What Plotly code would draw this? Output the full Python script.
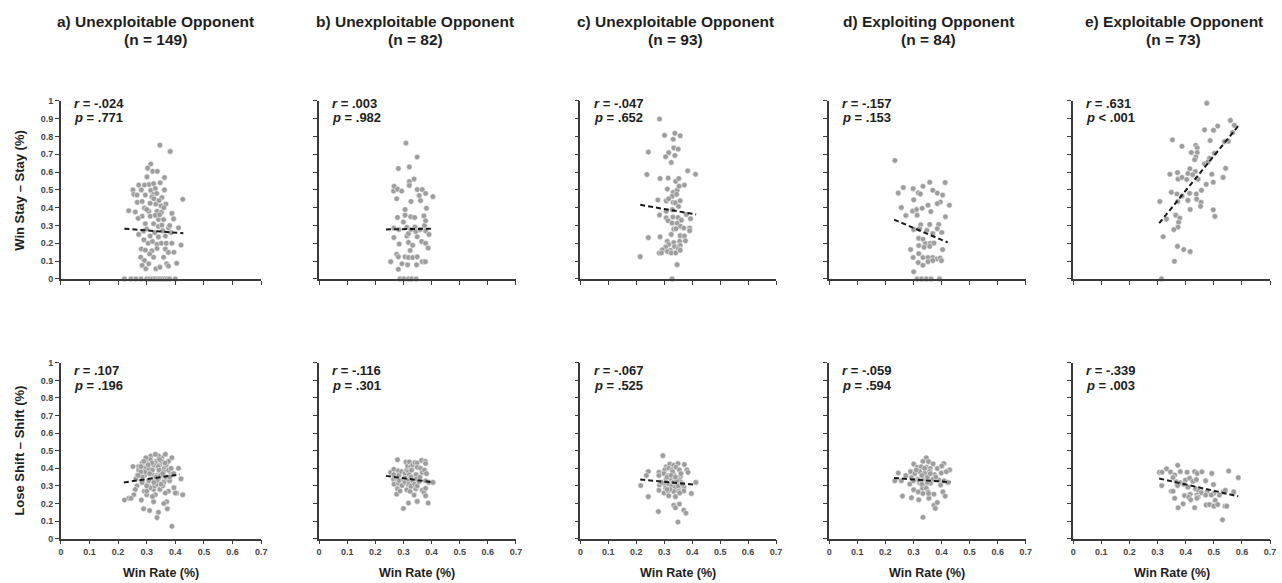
import plotly.graph_objects as go

# ---------------- data ----------------
titles = ["a) Unexploitable Opponent", "b) Unexploitable Opponent", "c) Unexploitable Opponent",
          "d) Exploiting Opponent", "e) Exploitable Opponent"]
n_labels = ["(n = 149)", "(n = 82)", "(n = 93)", "(n = 84)", "(n = 73)"]
ws_r = ["-.024", ".003", "-.047", "-.157", ".631"]
ws_p = ["= .771", "= .982", "= .652", "= .153", "< .001"]
ls_r = [".107", "-.116", "-.067", "-.059", "-.339"]
ls_p = ["= .196", "= .301", "= .525", "= .594", "= .003"]
x_tick_vals = [0, 0.1, 0.2, 0.3, 0.4, 0.5, 0.6, 0.7]
x_tick_text = ["0", "0.1", "0.2", "0.3", "0.4", "0.5", "0.6", "0.7"]
y_tick_vals = [0, 0.1, 0.2, 0.3, 0.4, 0.5, 0.6, 0.7, 0.8, 0.9, 1]
y_tick_text = ["0", "0.1", "0.2", "0.3", "0.4", "0.5", "0.6", "0.7", "0.8", "0.9", "1"]
row_titles = ["Win Stay \u2013 Stay (%)", "Lose Shift \u2013 Shift (%)"]
x_title = "Win Rate (%)"

# regression (trend) lines: [x start, x end], [y start, y end]
ws_fit_x = [[0.222, 0.428], [0.238, 0.398], [0.214, 0.414], [0.231, 0.422], [0.306, 0.591]]
ws_fit_y = [[0.282, 0.256], [0.278, 0.282], [0.416, 0.362], [0.333, 0.205], [0.313, 0.867]]
ls_fit_x = [[0.220, 0.415], [0.238, 0.404], [0.214, 0.413], [0.231, 0.432], [0.306, 0.587]]
ls_fit_y = [[0.320, 0.365], [0.357, 0.321], [0.336, 0.307], [0.345, 0.321], [0.342, 0.241]]

# panel a (same participants in both rows)
a_x = [.346, .382, .314, .303, .321, .337, .301, .362, .308, .324,
       .347, .272, .292, .252, .281, .314, .330, .362, .255, .266,
       .295, .324, .353, .267, .284, .312, .332, .367, .426, .237,
       .260, .292, .307, .336, .351, .388, .284, .312, .330, .341,
       .359, .394, .295, .324, .341, .353, .376, .411, .272, .289,
       .312, .328, .341, .365, .336, .351, .368, .388, .420, .281,
       .295, .318, .336, .365, .376, .279, .292, .307, .324, .359,
       .370, .284, .297, .332, .346, .376, .405, .222, .245, .262,
       .280, .300, .310, .320, .330, .340, .348, .356, .364, .372,
       .380, .400, .318, .343, .300, .356, .385, .305, .320, .335,
       .350, .270, .395, .310, .345, .290, .360, .380, .325, .300]
a_ws = [.751, .716, .645, .622, .604, .604, .573, .569, .530, .535,
        .540, .527, .527, .500, .500, .497, .508, .500, .475, .471,
        .471, .475, .457, .430, .435, .425, .420, .420, .447, .383,
        .376, .398, .380, .380, .374, .368, .352, .352, .357, .333,
        .333, .337, .310, .310, .295, .302, .287, .287, .250, .269,
        .241, .260, .236, .241, .195, .200, .200, .200, .190, .168,
        .162, .158, .171, .168, .149, .122, .103, .085, .122, .122,
        .085, .076, .057, .057, .066, .072, .088, 0, 0, 0,
        0, 0, 0, 0, 0, 0, 0, 0, 0, 0,
        0, 0, .46, .44, .28, .27, .26, .20, .21, .48,
        .41, .34, .15, .14, .36, .22, .40, .30, .45, .39]
a_ls = [.42, .38, .45, .31, .40, .36, .43, .33, .39, .28,
        .45, .41, .36, .41, .33, .47, .25, .40, .25, .30,
        .42, .34, .46, .36, .43, .37, .44, .35, .25, .23,
        .28, .40, .33, .41, .38, .46, .35, .29, .43, .47,
        .32, .37, .38, .21, .34, .44, .27, .40, .39, .17,
        .45, .30, .15, .48, .12, .36, .42, .07, .34, .22,
        .44, .37, .31, .26, .39, .38, .27, .40, .42, .38,
        .21, .32, .46, .35, .28, .44, .26, .22, .23, .34,
        .41, .25, .16, .39, .48, .41, .36, .30, .43, .17,
        .33, .26, .43, .39, .30, .37, .40, .42, .24, .33,
        .31, .36, .29, .37, .45, .44, .20, .35, .32, .27]

# panel b (same participants in both rows)
b_x = [.255, .265, .266, .266, .267, .276, .276, .279, .279, .282,
       .282, .282, .284, .285, .288, .294, .295, .300, .302, .306,
       .306, .306, .309, .312, .312, .315, .318, .318, .318, .318,
       .321, .321, .321, .324, .326, .327, .327, .329, .333, .333,
       .338, .340, .341, .344, .345, .347, .349, .349, .349, .349,
       .356, .359, .361, .365, .367, .367, .373, .375, .378, .379,
       .379, .379, .379, .382, .388, .391, .405]
b_ws = [.097, .493, .286, .232, .520, .450, .138, .504, .345, .620,
        .124, .054, .277, .196, 0, .493, .085, .320, 0, .390,
        .358, .124, .763, .290, .241, .079, .255, .205, .120, 0,
        .629, .547, .525, .160, .349, .435, .277, 0, .189, .120,
        .561, .345, .291, .266, 0, .079, .685, .502, .237, .124,
        .468, .277, .440, .210, .502, .097, .354, .300, .097, .480,
        .327, .270, .200, .397, .174, .250, .462]
b_ls = [.377, .338, .395, .364, .310, .341, .253, .449, .284, .386,
        .316, .338, .360, .330, .271, .382, .302, .172, .329, .350,
        .320, .373, .436, .390, .278, .413, .305, .203, .334, .380,
        .364, .310, .436, .269, .409, .350, .298, .390, .420, .329,
        .248, .310, .433, .284, .364, .340, .430, .406, .212, .300,
        .325, .350, .400, .445, .275, .377, .262, .390, .440, .329,
        .427, .287, .244, .370, .203, .320, .320]

# panel c
c_top_x = [.283, .301, .338, .357, .332, .334, .350, .243, .316, .305,
           .338, .325, .384, .412, .238, .285, .314, .341, .352, .372,
           .311, .332, .346, .328, .344, .353, .277, .307, .316, .332,
           .340, .357, .351, .307, .283, .329, .379, .394, .349, .307,
           .314, .331, .361, .328, .346, .358, .370, .391, .391, .334,
           .342, .357, .372, .376, .243, .285, .325, .311, .316, .334,
           .355, .346, .305, .293, .322, .337, .357, .351, .282, .290,
           .311, .325, .341, .357, .214, .346, .328]
c_top_y = [.898, .807, .818, .804, .784, .736, .729, .712, .709, .686,
           .693, .654, .607, .588, .586, .564, .566, .548, .564, .527,
           .505, .486, .498, .464, .475, .521, .443, .438, .450, .429,
           .427, .439, .407, .380, .359, .389, .362, .338, .345, .343,
           .327, .348, .330, .314, .313, .295, .286, .286, .271, .280,
           .282, .243, .241, .214, .232, .236, .250, .211, .193, .204,
           .211, .179, .179, .164, .161, .182, .188, .170, .145, .146,
           .154, .146, .146, .161, .125, .080, 0]
c_bot_x = [.295, .307, .320, .334, .349, .372, .302, .316, .328, .342,
           .354, .243, .281, .381, .385, .236, .281, .299, .314, .334,
           .358, .307, .322, .342, .354, .216, .283, .302, .316, .332,
           .346, .360, .305, .325, .340, .354, .370, .281, .299, .314,
           .334, .352, .370, .397, .316, .340, .243, .334, .354, .340,
           .370, .378, .279, .349, .413, .310, .330, .345, .360, .320,
           .350, .290, .365, .325, .310, .340, .355]
c_bot_y = [.472, .409, .424, .417, .427, .422, .391, .400, .391, .406,
           .391, .382, .377, .391, .377, .359, .359, .370, .359, .364,
           .355, .338, .343, .341, .334, .302, .305, .311, .311, .320,
           .311, .320, .287, .296, .293, .296, .293, .275, .260, .269,
           .269, .269, .271, .257, .244, .239, .239, .190, .197, .176,
           .162, .145, .154, .095, .320, .350, .380, .330, .370, .280,
           .300, .320, .310, .360, .280, .350, .260]

# panel d
d_top_x = [.234, .358, .413, .264, .299, .334, .246, .317, .325, .369,
           .385, .404, .301, .352, .396, .385, .257, .428, .297, .311,
           .331, .273, .313, .362, .414, .326, .358, .390, .322, .301,
           .348, .369, .385, .401, .319, .334, .342, .360, .373, .290,
           .319, .338, .358, .404, .319, .334, .352, .369, .383, .395,
           .299, .317, .334, .352, .369, .400, .301, .313, .329, .346,
           .363, .393]
d_top_y = [.665, .543, .541, .513, .507, .520, .482, .484, .477, .498,
           .482, .471, .444, .414, .432, .423, .401, .414, .381, .390,
           .397, .356, .358, .378, .349, .304, .306, .306, .282, .277,
           .273, .255, .282, .261, .228, .223, .198, .200, .201, .165,
           .187, .178, .183, .165, .142, .120, .120, .120, .112, .117,
           .120, .092, .077, .097, .103, .103, .040, 0, 0, 0,
           0, 0]
d_bot_x = [.346, .301, .334, .354, .370, .408, .429, .314, .328, .346,
           .360, .385, .401, .246, .273, .290, .305, .322, .340, .358,
           .375, .399, .417, .234, .257, .293, .316, .334, .349, .370,
           .390, .409, .423, .287, .322, .340, .361, .397, .332, .346,
           .301, .317, .334, .352, .373, .405, .413, .261, .293, .319,
           .355, .354, .373, .378, .385, .334, .310, .330, .350, .320,
           .360, .340, .300, .380, .330, .350]
d_bot_y = [.460, .424, .440, .438, .425, .427, .391, .406, .409, .406,
           .399, .399, .413, .373, .359, .381, .370, .382, .373, .382,
           .364, .373, .381, .329, .329, .347, .338, .338, .341, .338,
           .334, .329, .320, .311, .316, .305, .316, .305, .287, .287,
           .278, .266, .257, .266, .253, .266, .242, .242, .233, .221,
           .230, .257, .190, .172, .206, .122, .390, .360, .350, .330,
           .370, .400, .330, .350, .310, .320]

# panel e
e_top_x = [.475, .559, .514, .499, .467, .573, .552, .538, .567, .353,
           .387, .436, .441, .487, .420, .441, .436, .432, .467, .502,
           .485, .479, .344, .371, .408, .415, .434, .373, .387, .404,
           .425, .444, .493, .542, .473, .498, .533, .349, .369, .387,
           .414, .438, .456, .308, .372, .408, .439, .455, .416, .498,
           .453, .332, .365, .379, .375, .373, .358, .504, .320, .371,
           .393, .416, .360, .314]
e_top_y = [.987, .890, .858, .835, .837, .863, .773, .771, .822, .781,
           .745, .750, .736, .777, .710, .710, .685, .669, .646, .705,
           .678, .657, .588, .597, .592, .619, .603, .561, .570, .558,
           .585, .560, .588, .621, .531, .543, .570, .486, .477, .466,
           .481, .477, .498, .435, .435, .441, .448, .430, .390, .388,
           .408, .336, .358, .342, .318, .291, .277, .351, .237, .183,
           .165, .153, .099, 0]
e_bot_x = [.372, .307, .316, .332, .346, .361, .381, .405, .432, .441,
           .458, .493, .553, .587, .355, .367, .381, .399, .414, .426,
           .438, .471, .499, .315, .371, .394, .408, .435, .453, .476,
           .499, .534, .571, .349, .355, .416, .447, .455, .541, .361,
           .396, .411, .440, .471, .491, .520, .418, .444, .505, .540,
           .474, .440, .373, .391, .432, .473, .485, .500, .514, .546,
           .531]
e_bot_y = [.417, .378, .378, .397, .379, .362, .381, .378, .381, .371,
           .380, .371, .385, .347, .347, .324, .318, .333, .344, .326,
           .336, .329, .308, .302, .302, .308, .293, .284, .275, .266,
           .257, .266, .266, .270, .270, .252, .270, .261, .275, .230,
           .245, .236, .248, .248, .248, .248, .221, .236, .218, .185,
           .194, .230, .176, .198, .176, .191, .194, .185, .194, .185,
           .108]

top_x = [a_x, b_x, c_top_x, d_top_x, e_top_x]
top_y = [a_ws, b_ws, c_top_y, d_top_y, e_top_y]
bot_x = [a_x, b_x, c_bot_x, d_bot_x, e_bot_x]
bot_y = [a_ls, b_ls, c_bot_y, d_bot_y, e_bot_y]

# ---------------- figure ----------------
W, H = 1282, 583
FONT = "Arial, 'Liberation Sans', Helvetica, sans-serif"
AX = "#3a3a3a"
TXT = "#1e1e1e"
TICKC = "#454545"
col_px = [(58.3, 260.0), (318.3, 516.5), (581.5, 778.5), (832.0, 1030.0), (1077.7, 1276.0)]
title_cx = [153.5, 415.0, 677.0, 932.0, 1179.0]
row_px = [(97.5, 278.7), (364.0, 543.0)]

fig = go.Figure()
annotations = []
layout_axes = {}

for r in range(2):
    xs_all = top_x if r == 0 else bot_x
    ys_all = top_y if r == 0 else bot_y
    fx_all = ws_fit_x if r == 0 else ls_fit_x
    fy_all = ws_fit_y if r == 0 else ls_fit_y
    rr = ws_r if r == 0 else ls_r
    pp = ws_p if r == 0 else ls_p
    for c in range(5):
        idx = r * 5 + c + 1
        sfx = "" if idx == 1 else str(idx)
        xref, yref = "x" + sfx, "y" + sfx
        x0, x1 = col_px[c]
        yt, yb = row_px[r]
        layout_axes["xaxis" + sfx] = dict(
            domain=[x0 / W, x1 / W], range=[0, 0.7], anchor=yref,
            showgrid=False, zeroline=False, showline=True, linecolor=AX, linewidth=1.6,
            ticks="outside", ticklen=4, tickwidth=1, tickcolor=AX,
            tickvals=x_tick_vals, ticktext=x_tick_text, showticklabels=(r == 1),
            tickfont=dict(family=FONT, size=9, color=TICKC, weight="bold"),
        )
        layout_axes["yaxis" + sfx] = dict(
            domain=[1 - yb / H, 1 - yt / H], range=[0, 1], anchor=xref,
            showgrid=False, zeroline=False, showline=True, linecolor=AX, linewidth=1.6,
            ticks="outside", ticklen=4, tickwidth=1, tickcolor=AX,
            tickvals=y_tick_vals, ticktext=y_tick_text, showticklabels=(c == 0),
            tickfont=dict(family=FONT, size=9, color=TICKC, weight="bold"),
        )
        fig.add_trace(go.Scatter(
            x=xs_all[c], y=ys_all[c], mode="markers", xaxis=xref, yaxis=yref,
            marker=dict(size=5.6, color="#9d9d9d", line=dict(color="#ffffff", width=0.5)),
            cliponaxis=False, showlegend=False, hoverinfo="skip",
        ))
        fig.add_trace(go.Scatter(
            x=fx_all[c], y=fy_all[c], mode="lines", xaxis=xref, yaxis=yref,
            line=dict(color="#1a1a1a", width=2, dash="5px,3px"),
            showlegend=False, hoverinfo="skip",
        ))
        ry = 0.987 if r == 0 else 0.957
        py = 0.904 if r == 0 else 0.871
        annotations.append(dict(
            xref=xref, yref=yref, x=0.04, y=ry, xanchor="left", yanchor="middle",
            text="<b><i>r</i> = " + rr[c] + "</b>", showarrow=False,
            font=dict(family=FONT, size=13, color=TXT)))
        annotations.append(dict(
            xref=xref, yref=yref, x=0.04, y=py, xanchor="left", yanchor="middle",
            text="<b><i>p</i> " + pp[c] + "</b>", showarrow=False,
            font=dict(family=FONT, size=13, color=TXT)))
        if r == 1:
            annotations.append(dict(
                xref="paper", yref="paper", x=(x0 + x1) / 2 / W, y=1 - 578 / H,
                xanchor="center", yanchor="middle", text="<b>" + x_title + "</b>",
                showarrow=False, font=dict(family=FONT, size=12.5, color=TXT)))
        if r == 0:
            annotations.append(dict(
                xref="paper", yref="paper", x=title_cx[c] / W, y=1 - 17 / H,
                xanchor="center", yanchor="middle", text="<b>" + titles[c] + "</b>",
                showarrow=False, font=dict(family=FONT, size=15.5, color=TXT)))
            annotations.append(dict(
                xref="paper", yref="paper", x=title_cx[c] / W, y=1 - 35 / H,
                xanchor="center", yanchor="middle", text="<b>" + n_labels[c] + "</b>",
                showarrow=False, font=dict(family=FONT, size=15.5, color=TXT)))
    annotations.append(dict(
        xref="paper", yref="paper", x=17 / W, y=1 - (sum(row_px[r]) / 2) / H,
        xanchor="center", yanchor="middle", textangle=-90,
        text="<b>" + row_titles[r] + "</b>", showarrow=False,
        font=dict(family=FONT, size=13, color=TXT)))

fig.update_layout(
    width=W, height=H, margin=dict(l=0, r=0, t=0, b=0),
    paper_bgcolor="white", plot_bgcolor="white",
    annotations=annotations, showlegend=False,
    **layout_axes,
)

fig.write_html(
    "out.html",
    config={"displayModeBar": False},
    post_script="document.body.style.margin='0px';document.body.style.overflow='hidden';",
)
